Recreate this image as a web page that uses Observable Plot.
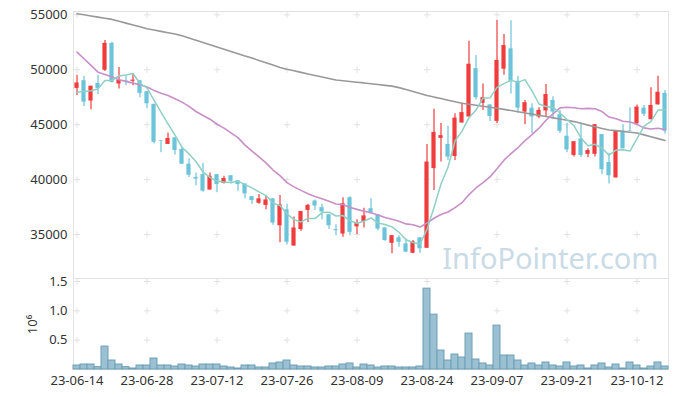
<!DOCTYPE html>
<html><head><meta charset="utf-8">
<script src="https://cdn.jsdelivr.net/npm/d3@7"></script>
<script src="https://cdn.jsdelivr.net/npm/@observablehq/plot@0.6"></script>
<style>
body{margin:0;background:#fff;}
#chart svg{display:block;}
</style></head><body><div id="chart"></div>
<script>
const dates = ["23-06-14","23-06-15","23-06-16","23-06-19","23-06-20","23-06-21","23-06-22","23-06-23","23-06-26","23-06-27",
"23-06-28","23-06-29","23-06-30","23-07-03","23-07-04","23-07-05","23-07-06","23-07-07","23-07-10","23-07-11",
"23-07-12","23-07-13","23-07-14","23-07-17","23-07-18","23-07-19","23-07-20","23-07-21","23-07-24","23-07-25",
"23-07-26","23-07-27","23-07-28","23-07-31","23-08-01","23-08-02","23-08-03","23-08-04","23-08-07","23-08-08",
"23-08-09","23-08-10","23-08-11","23-08-14","23-08-16","23-08-17","23-08-18","23-08-21","23-08-22","23-08-23",
"23-08-24","23-08-25","23-08-28","23-08-29","23-08-30","23-08-31","23-09-01","23-09-04","23-09-05","23-09-06",
"23-09-07","23-09-08","23-09-11","23-09-12","23-09-13","23-09-14","23-09-15","23-09-18","23-09-19","23-09-20",
"23-09-21","23-09-22","23-09-25","23-09-26","23-09-27","23-10-04","23-10-05","23-10-06","23-10-10","23-10-11",
"23-10-12","23-10-13","23-10-16","23-10-17","23-10-18"];

const open = [48300,49000,47150,48750,49950,52400,48700,49000,48950,49000,
48000,46850,43550,43200,43800,42750,41400,40200,40450,39050,
40450,39650,40350,39900,39600,38450,37850,37650,38250,35800,
37250,33950,35450,37200,38050,37450,36800,35450,35050,38350,
35700,36200,37350,36800,35600,34200,34700,34150,33300,34700,
33750,41000,43750,43200,42100,45150,45700,50100,46950,46800,
45300,50050,51900,48950,46150,46500,45700,46250,47200,45900,
43950,42200,43700,42300,42300,44100,41550,40150,44400,44450,
45100,46500,45450,46800,47850];

const high = [49500,49400,48500,49500,52650,52500,50200,49400,49650,49000,
48000,46850,43550,44250,43800,42900,41900,40600,41500,40600,
40450,40300,40350,39900,39600,38450,38650,38550,38250,38550,
37750,36600,37100,37750,38150,37750,36800,35900,38350,38450,
36350,37400,38250,36800,35600,34900,34900,34600,34450,34700,
43200,46400,45100,44850,46000,46950,52600,51300,48700,46800,
54500,53200,54450,49400,47200,46900,46550,48650,47550,46300,
45100,43450,45150,42800,45000,44100,42400,44450,45000,46550,
46800,46750,48350,49400,48100];

const low = [47650,46650,46350,47750,49850,48800,48250,48550,48550,47450,
46450,43250,42450,43200,42250,41400,40200,39450,38850,39050,
38800,39600,39600,38950,38250,37750,37750,37250,35850,34250,
34050,33950,35300,36100,37200,36350,35450,34900,34750,34900,
35000,35600,36900,35350,34400,33250,33850,33350,33250,33300,
33750,39000,41600,41750,41750,45150,45700,47250,46300,45300,
45100,49500,47800,46050,45000,44200,45550,45700,45550,44200,
42450,42050,42000,42000,42050,40450,39600,40150,42800,44400,
44950,45750,45450,46800,44150];

const close = [48800,47050,48500,48300,52400,48850,49050,48950,49050,47850,
46900,43400,43500,43750,42650,41400,40400,40050,38950,40300,
39550,40100,39850,39550,38700,38100,38250,38150,36050,37700,
34300,35600,37100,37650,37600,37050,35800,35350,37800,35200,
36000,36700,36900,35500,34450,34900,34300,33400,34350,33700,
41600,44300,44000,42050,45600,46100,50500,47450,47450,45750,
50850,52200,48950,46500,47000,45700,46300,47750,46150,44400,
42700,43450,42200,42650,45000,40900,40350,44450,42800,44400,
46600,45950,46750,47950,44400];

const ma5 = [47960,48020,48090,48270,49010,49030,49430,49520,49660,48750,
48350,47230,46140,45080,44040,42940,42340,41650,40690,40210,
39840,39780,39740,39860,39540,39250,38880,38550,37850,37650,
36890,36360,36150,36470,36450,37000,37040,36690,36730,36250,
36030,36210,36520,36060,35910,35700,35210,34520,34280,34130,
35470,37470,39600,41130,43510,44410,45640,46330,47410,47440,
48400,48740,49040,48850,49100,48070,46880,46650,46570,46060,
45460,44900,43790,43090,43210,42850,42230,42690,42720,42600,
43730,44840,45300,46330,46330];

const ma20 = [51600,51000,50400,49780,49570,49330,49090,48940,48780,48630,
48420,48120,47870,47660,47360,47050,46660,46200,45840,45500,
45040,44690,44260,43820,43140,42600,42060,41520,40870,40360,
39730,39340,39020,38720,38460,38250,38020,37780,37730,37470,
37290,37120,36980,36780,36560,36400,36210,35970,35890,35680,
36050,36480,36830,37050,37450,37900,38640,39240,39720,40250,
40990,41770,42370,42920,43550,44090,44680,45400,45990,46530,
46580,46540,46450,46480,46450,46190,45690,45540,45310,45240,
45030,44710,44600,44680,44550];

const maLong = [55100,55000,54890,54790,54680,54580,54410,54240,54070,53910,
53730,53620,53490,53370,53250,53090,52890,52680,52480,52270,
52060,51860,51660,51460,51260,51060,50850,50640,50430,50210,
50040,49900,49760,49620,49480,49340,49200,49070,49000,48930,
48860,48800,48720,48650,48580,48510,48370,48200,48020,47830,
47660,47510,47380,47230,47090,46950,46860,46770,46680,46590,
46490,46390,46290,46180,46070,45960,45850,45740,45620,45510,
45400,45280,45130,44960,44810,44650,44520,44460,44390,44310,
44240,44070,43900,43730,43560];

const volume = [68000,85000,85000,40000,391000,153000,85000,40000,17000,68000,
68000,187000,68000,68000,51000,85000,68000,51000,85000,85000,
85000,51000,34000,17000,68000,68000,34000,34000,102000,119000,
153000,68000,51000,51000,34000,34000,51000,51000,85000,102000,
34000,85000,68000,34000,51000,51000,34000,34000,34000,51000,
1378000,935000,323000,153000,255000,204000,612000,170000,102000,68000,
748000,238000,238000,153000,68000,102000,68000,119000,68000,51000,
119000,51000,68000,17000,68000,102000,34000,85000,17000,119000,
68000,17000,51000,119000,51000];

const tickDates = ["23-06-14","23-06-28","23-07-12","23-07-26","23-08-09","23-08-24","23-09-07","23-09-21","23-10-12"];
const priceTicks = [35000,40000,45000,50000,55000];
const volumeTicks = [500000,1000000,1500000];

const rows = dates.map((d,i)=>({date:d, open:open[i], high:high[i], low:low[i], close:close[i],
  ma5:ma5[i], ma20:ma20[i], maLong:maLong[i], volume:volume[i]}));
const UP = "#f03c3c", DOWN = "#6cc3da";
const col = d => d.close >= d.open ? UP : DOWN;
const style = {fontFamily:"'Noto Sans', sans-serif", fontSize:"13px", color:"#333", background:"transparent", overflow:"visible"};
const gridPrice = d3.cross(tickDates, priceTicks).map(([x,y])=>({x,y}));
const gridVol = d3.cross(tickDates, volumeTicks).map(([x,y])=>({x,y}));

const main = Plot.plot({
  width:677, height:279, marginTop:11, marginBottom:1, marginLeft:73, marginRight:9,
  style,
  color:{type:"identity"},
  x:{type:"band", domain:dates, padding:0, axis:null},
  y:{domain:[31000,55300], ticks:priceTicks, tickSize:0, tickPadding:6, label:null, tickFormat:d=>String(d)},
  marks:[
    Plot.frame({stroke:"#e3e3e3"}),
    Plot.dot(gridPrice, {x:"x", y:"y", symbol:"plus", r:2.2, stroke:"#e2e2e2", strokeWidth:1}),
    Plot.text(["InfoPointer.com"], {text:d=>d, frameAnchor:"bottom-right", textAnchor:"end", lineAnchor:"bottom",
      dx:-10, dy:-10, fontSize:29, fill:"#c9dbe6"}),
    Plot.ruleX(rows, {x:"date", y1:"low", y2:"high", stroke:col, strokeWidth:1.2}),
    Plot.barY(rows, {x:"date", y1:"open", y2:"close", fill:col, insetLeft:1.4, insetRight:1.4}),
    Plot.lineY(rows, {x:"date", y:"maLong", stroke:"#999999", strokeWidth:1.6}),
    Plot.lineY(rows, {x:"date", y:"ma20", stroke:"#c98fc8", strokeWidth:1.6}),
    Plot.lineY(rows, {x:"date", y:"ma5", stroke:"#8fd0c4", strokeWidth:1.5})
  ]
});

const vol = Plot.plot({
  width:677, height:118, marginTop:0, marginBottom:28, marginLeft:73, marginRight:9,
  style,
  x:{type:"band", domain:dates, padding:0, ticks:tickDates, tickSize:0, tickPadding:6, label:null},
  y:{domain:[0,1534000], ticks:volumeTicks, tickFormat:d=>(d/1e6).toFixed(1), tickSize:0, tickPadding:6,
     label:"10⁶", labelAnchor:"center", labelArrow:"none", labelOffset:46},
  marks:[
    Plot.frame({anchor:"left", stroke:"#e3e3e3"}),
    Plot.frame({anchor:"right", stroke:"#e3e3e3"}),
    Plot.frame({anchor:"bottom", stroke:"#e3e3e3"}),
    Plot.dot(gridVol, {x:"x", y:"y", symbol:"plus", r:2.2, stroke:"#e2e2e2", strokeWidth:1}),
    Plot.barY(rows, {x:"date", y:"volume", fill:"#9bc0d1", stroke:"#6d9fb7", strokeWidth:1})
  ]
});

const root = document.getElementById("chart");
root.style.background = "#fff";
root.appendChild(main);
root.appendChild(vol);
</script></body></html>
